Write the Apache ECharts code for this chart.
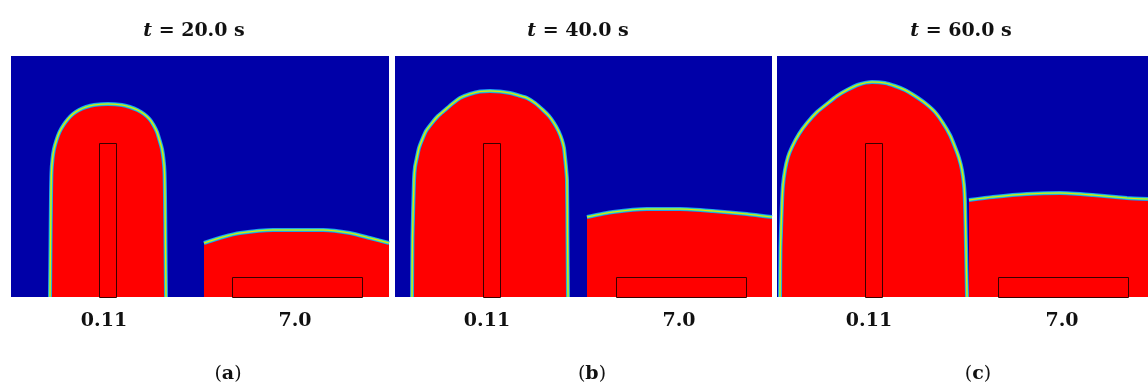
<!DOCTYPE html>
<html>
<head>
<meta charset="utf-8">
<script src="https://cdn.jsdelivr.net/npm/echarts@6/dist/echarts.min.js"></script>
<style>
  html, body { margin: 0; padding: 0; background: #fff; }
  #chart { width: 1148px; height: 386px; }
</style>
</head>
<body>
<div id="chart"></div>
<script>
// snapshot times
const times = ['20.0', '40.0', '60.0'];
const panelTags = ['a', 'b', 'c'];
const subLabels = ['0.11', '7.0'];

// droplet contour (x, height) in the left sub-domain, one per time
const dropA = [[39,0],[39.5,50],[40,100],[40.5,125],[41.5,138],[43,148],[45.5,157],[48.5,165],[52.5,172],[57,178],[62,183],[68,187],[75,190],[83,192],[97,193],
  [111,192],[119,190],[126.5,187],[133,183],[138.5,178],[142.5,172],[146,165],[148.5,157],[151,148],[152.5,138],[153.5,125],[154,100],[154.5,50],[155,0]];
const dropB = [[17,0],[17.5,60],[19,117],[20,130],[22,140],[24,149],[27,157],[31,166],[37,174],[43,181],[50,187],[57,193],[65,199],[75,203],[85,205.5],[95,206],
  [105,205.5],[115,204],[124,201.5],[132,199],[140,194],[148,187],[154,181],[159,174],[163.5,166],[167,157],[169,149],[170,140],[171,130],[172,117],[172.5,60],[173,0]];
const dropC = [[3,0],[3.5,50],[5,94],[6,112],[8,127],[11,140],[15,150],[22,163],[30,174],[40,185],[51,194],[60,201],[70,207],[82,212.5],[95,215],
  [108,214],[118,211],[128,207],[138,201],[148,194],[158,185],[166,174],[173,162],[178,150],[182,139],[185,127],[187,112],[188,94],[189,50],[190,0]];

// spread layer surface in the right sub-domain
const layerA = [[193,54],[212,60],[229,64],[262,67],[312,67],[339,64],[359,59],[378,54]];
const layerB = [[192,80],[218,85],[252,88],[285,88],[318,86],[352,83],[377,80]];
const layerC = [[192,97],[216,100],[250,103],[283,104],[316,102],[350,99],[371,98]];

// obstacles: [x0, x1, height]
const pillar = [88, 105, 154];
const plate = [221, 351, 20];

const drops = [dropA, dropB, dropC];
const layers = [layerA, layerB, layerC];
const domainH = 241;
const domainW = [378, 377, 371];

const BLUE = '#0000a8';
const RED = '#ff0000';

const panels = [
  { left: 11, width: 378 },
  { left: 395, width: 377 },
  { left: 777, width: 371 }
];

const grids = panels.map(p => ({
  left: p.left, width: p.width, top: 56, height: 241,
  show: true, backgroundColor: BLUE, borderWidth: 0
}));

const xAxes = panels.map((p, i) => ({
  type: 'value', gridIndex: i, min: 0, max: domainW[i], show: false
}));
const yAxes = panels.map((p, i) => ({
  type: 'value', gridIndex: i, min: 0, max: domainH, show: false
}));

function interfaceSeries(data, i) {
  const base = { type: 'line', xAxisIndex: i, yAxisIndex: i, data: data,
    showSymbol: false, smooth: 0.2, silent: true, animation: false, z: 2 };
  return [
    Object.assign({}, base, { lineStyle: { color: '#1c8cff', width: 4 } }),
    Object.assign({}, base, { lineStyle: { color: '#30e8a0', width: 2.6 } }),
    Object.assign({}, base, { lineStyle: { color: '#f0e000', width: 1.2 },
      areaStyle: { color: RED, opacity: 1 } })
  ];
}

function obstacleSeries(i) {
  return {
    type: 'custom', xAxisIndex: i, yAxisIndex: i, silent: true, animation: false, z: 5,
    data: [pillar, plate],
    renderItem: function (params, api) {
      const p0 = api.coord([api.value(0), 0]);
      const p1 = api.coord([api.value(1), api.value(2)]);
      return {
        type: 'rect',
        shape: { x: Math.round(p0[0]) + 0.5, y: Math.round(p1[1]) + 0.5,
          width: Math.round(p1[0] - p0[0]), height: Math.round(p0[1] - p1[1]) },
        style: { fill: 'none', stroke: '#3a0000', lineWidth: 1 }
      };
    }
  };
}

let series = [];
panels.forEach((p, i) => {
  series = series.concat(interfaceSeries(drops[i], i));
  series = series.concat(interfaceSeries(layers[i], i));
  series.push(obstacleSeries(i));
});

const font = 'DejaVu Serif';
const titles = [];
const titleX = [189, 573, 956];
const labelX = [[99, 290], [482, 674], [864, 1057]];
const tagX = [223, 587, 973];
times.forEach((t, i) => {
  titles.push({
    text: '{i|t} = ' + t + ' s', left: titleX[i], top: 26,
    textAlign: 'center', textVerticalAlign: 'middle',
    textStyle: { fontFamily: font, fontSize: 19, fontWeight: 'bold', color: '#111',
      rich: { i: { fontFamily: font, fontSize: 19, fontWeight: 'bold', fontStyle: 'italic', color: '#111' } } }
  });
  subLabels.forEach((s, k) => {
    titles.push({
      text: s, left: labelX[i][k], top: 316,
      textAlign: 'center', textVerticalAlign: 'middle',
      textStyle: { fontFamily: font, fontSize: 19, fontWeight: 'bold', color: '#111' }
    });
  });
  titles.push({
    text: '({b|' + panelTags[i] + '})', left: tagX[i], top: 369,
    textAlign: 'center', textVerticalAlign: 'middle',
    textStyle: { fontFamily: font, fontSize: 19, fontWeight: 'normal', color: '#111',
      rich: { b: { fontFamily: font, fontSize: 19, fontWeight: 'bold', color: '#111' } } }
  });
});

const chart = echarts.init(document.getElementById('chart'));
chart.setOption({
  animation: false,
  backgroundColor: '#fff',
  title: titles,
  grid: grids,
  xAxis: xAxes,
  yAxis: yAxes,
  series: series
});
</script>
</body>
</html>
